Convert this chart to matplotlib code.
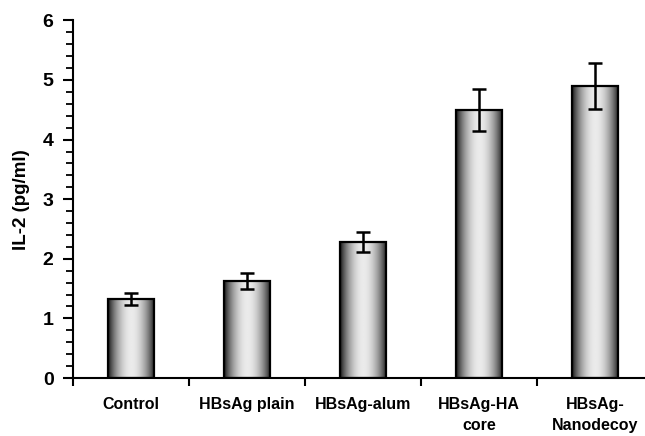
import numpy as np
import matplotlib
matplotlib.use("Agg")
import matplotlib.pyplot as plt
from matplotlib.ticker import MultipleLocator, FixedLocator, NullFormatter

# IL-2 levels per formulation
groups = ["Control", "HBsAg plain", "HBsAg-alum", "HBsAg-HA\ncore", "HBsAg-\nNanodecoy"]
il2_mean = [1.32, 1.63, 2.28, 4.50, 4.90]
il2_err = [0.10, 0.13, 0.17, 0.35, 0.38]

plt.rcParams["font.family"] = ["Liberation Sans", "DejaVu Sans"]
plt.rcParams["font.weight"] = "bold"

fig = plt.figure(figsize=(6.45, 4.36), dpi=100)
ax = fig.add_axes([73 / 645, 58 / 436, 580 / 645, 357.6 / 436])

x = np.arange(len(groups))
width = 0.405

# metallic cylinder shading across each bar
t = np.linspace(0, 1, 256)
shade = 0.06 + 0.86 * np.sin(np.pi * t) ** 0.8
grad = shade[np.newaxis, :]

bars = ax.bar(x, il2_mean, width=width, color="none", edgecolor="black",
              linewidth=1.6, zorder=3)
for b in bars:
    x0, w, h = b.get_x(), b.get_width(), b.get_height()
    im = ax.imshow(grad, cmap="gray", vmin=0, vmax=1, aspect="auto",
                   extent=[x0, x0 + w, 0, h], zorder=2, interpolation="bilinear")
    im.set_clip_path(b)

ax.errorbar(x, il2_mean, yerr=il2_err, fmt="none", ecolor="black",
            elinewidth=1.8, capsize=5, capthick=1.8, zorder=4)

ax.set_xlim(-0.5, 4.5)
ax.set_ylim(0, 6)

ax.spines["top"].set_visible(False)
ax.spines["right"].set_visible(False)
ax.spines["left"].set_linewidth(1.5)
ax.spines["bottom"].set_linewidth(1.5)

ax.yaxis.set_major_locator(MultipleLocator(1))
ax.yaxis.set_minor_locator(MultipleLocator(0.2))
ax.tick_params(axis="y", which="major", direction="out", length=7, width=1.5,
               labelsize=14, pad=7)
ax.tick_params(axis="y", which="minor", direction="out", length=5, width=1.3)

# category boundaries carry the x tick marks, names sit between them
ax.xaxis.set_major_locator(FixedLocator(x))
ax.set_xticklabels(groups, fontsize=11.5, fontweight="bold", linespacing=1.45)
ax.xaxis.set_minor_locator(FixedLocator(np.arange(-0.5, 4.5, 1.0)))
ax.xaxis.set_minor_formatter(NullFormatter())
ax.tick_params(axis="x", which="major", length=0, pad=14)
ax.tick_params(axis="x", which="minor", direction="out", length=6, width=1.5)
for lab in ax.get_xticklabels():
    lab.set_verticalalignment("top")

ax.set_ylabel("IL-2 (pg/ml)", fontsize=13.5, fontweight="bold", labelpad=9)

fig.savefig("out.png", dpi=100)
